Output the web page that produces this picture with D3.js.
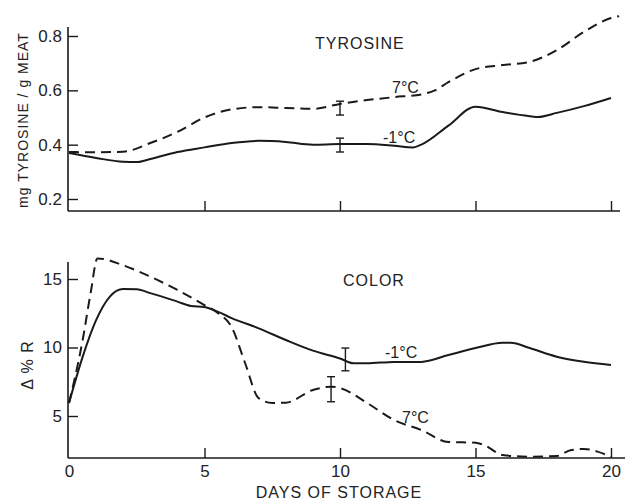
<!DOCTYPE html>
<html><head><meta charset="utf-8">
<script src="https://cdn.jsdelivr.net/npm/d3@7"></script>
<style>body{margin:0;background:#fff}svg{display:block}text{font-family:"Liberation Sans",Arial,sans-serif;fill:#222}</style>
</head><body><svg id="c" width="625" height="500"></svg>
<script>
// ---- data ----
const xTicks = [0,5,10,15,20];
const tyrTicks = [0.2,0.4,0.6,0.8];
const colTicks = [5,10,15];
const tyrDays7 = [0,1,2,3,4,5,6,7,8,9,10,11,12,13,13.5,14,15,16,17,18,19,20,20.3];
const tyr7 = [0.373,0.372,0.374,0.406,0.447,0.50,0.53,0.538,0.535,0.532,0.55,0.564,0.575,0.585,0.60,0.63,0.678,0.693,0.705,0.748,0.815,0.866,0.873];
const tyrDaysM1 = [0,1,2,2.5,3,4,5,6,7,8,9,10,11,12,12.7,13,14,15,16,17,17.3,18,19,20];
const tyrM1 = [0.369,0.351,0.337,0.336,0.347,0.373,0.39,0.406,0.414,0.41,0.40,0.402,0.402,0.396,0.39,0.40,0.47,0.54,0.52,0.505,0.502,0.517,0.542,0.572];
const colDaysM1 = [0,0.5,1,1.5,2,2.5,3,4,4.5,5,5.5,6,7,8,9,10,10.5,11,12,13,14,15,16,16.3,17,18,19,20];
const colM1 = [5.95,9.3,12.0,13.7,14.27,14.25,13.97,13.35,13.03,12.95,12.6,12.15,11.4,10.55,9.77,9.2,8.85,8.85,8.95,8.95,9.45,9.96,10.35,10.35,9.96,9.33,8.96,8.72];
const colDays7 = [0,0.5,0.8,1.05,2,3,4,5,5.5,6,6.5,7,7.5,8,9,9.7,10,11,12,13,14,15,15.3,16,17,18,18.5,19,19.5,20];
const col7 = [5.95,10.5,14.0,16.5,16.0,15.17,14.2,13.1,12.5,11.5,8.85,6.3,5.95,5.97,6.9,7.14,7.04,5.95,4.7,3.98,3.1,3.05,2.9,2.15,2.03,2.08,2.5,2.6,2.4,2.03];
// error bars: [day, low, high]
const tyrErr = [[10,0.509,0.56],[10,0.373,0.424]];
const colErr = [[10.2,8.3,9.96],[9.67,6.04,7.87]];

const svg = d3.select("#c");
const x = d3.scaleLinear().domain([0,20]).range([69,611]);
const yT = d3.scaleLinear().domain([0.2,0.8]).range([199,36]);
const yC = d3.scaleLinear().domain([5,15]).range([416,279]);
const ink = "#1a1a1a";

function panel(y, yTicks, fmt, yTop, yBot, xEnd, showXLabels){
  const g = svg.append("g");
  g.append("line").attr("x1",68).attr("x2",68).attr("y1",yTop).attr("y2",yBot).attr("stroke",ink).attr("stroke-width",1.6);
  g.append("line").attr("x1",68).attr("x2",xEnd).attr("y1",yBot).attr("y2",yBot).attr("stroke",ink).attr("stroke-width",1.6);
  const ya = g.append("g").attr("transform","translate(68,0)")
    .call(d3.axisLeft(y).tickValues(yTicks).tickFormat(fmt).tickSize(-10).tickPadding(6));
  ya.select(".domain").remove();
  ya.selectAll("line").attr("stroke",ink).attr("stroke-width",1.4);
  ya.selectAll("text").style("font-size","17px").style("font-family","Liberation Sans, Arial, sans-serif").attr("fill","#222");
  const xa = g.append("g").attr("transform",`translate(0,${yBot})`)
    .call(d3.axisBottom(x).tickValues(showXLabels?xTicks:xTicks.slice(1)).tickSize(-10).tickPadding(7).tickFormat(showXLabels?d3.format("d"):()=>""));
  xa.select(".domain").remove();
  xa.selectAll("line").attr("stroke",ink).attr("stroke-width",1.4);
  xa.selectAll(".tick").filter(d=>d===0).select("line").remove();
  xa.selectAll("text").style("font-size","17px").style("font-family","Liberation Sans, Arial, sans-serif").attr("fill","#222");
  return g;
}
panel(yT, tyrTicks, d3.format(".1f"), 27, 211, 620, false);
panel(yC, colTicks, d3.format("d"), 262, 458, 625, true);

function curve(days, vals, y, dashed){
  const line = d3.line().x((d,i)=>x(days[i])).y(d=>y(d)).curve(d3.curveMonotoneX);
  svg.append("path").attr("d",line(vals)).attr("fill","none").attr("stroke",ink)
    .attr("stroke-width",2).attr("stroke-dasharray",dashed?"10,6":null);
}
curve(tyrDays7, tyr7, yT, true);
curve(tyrDaysM1, tyrM1, yT, false);
curve(colDays7, col7, yC, true);
curve(colDaysM1, colM1, yC, false);

function errs(list, y){
  list.forEach(e=>{
    const cx = x(e[0]);
    svg.append("line").attr("x1",cx).attr("x2",cx).attr("y1",y(e[1])).attr("y2",y(e[2])).attr("stroke",ink).attr("stroke-width",1.4);
    [e[1],e[2]].forEach(v=>svg.append("line").attr("x1",cx-4).attr("x2",cx+4).attr("y1",y(v)).attr("y2",y(v)).attr("stroke",ink).attr("stroke-width",1.4));
  });
}
errs(tyrErr, yT);
errs(colErr, yC);

function txt(s, tx, ty, size, ls, anchor){
  return svg.append("text").attr("x",tx).attr("y",ty).attr("text-anchor",anchor||"start")
    .style("font-size",size+"px").style("letter-spacing",(ls||0)+"px").text(s);
}
txt("TYROSINE", 315, 49, 16, 1);
txt("COLOR", 343, 286, 16, 1);
txt("7°C", 392, 93, 16, 0);
txt("-1°C", 383, 143, 16, 0);
txt("-1°C", 385, 358, 16, 0);
txt("7°C", 402, 423, 16, 0);
txt("DAYS OF STORAGE", 339, 498, 16, 1, "middle");
svg.append("text").attr("transform","translate(28,120) rotate(-90)").attr("text-anchor","middle")
  .style("font-size","14px").style("letter-spacing","1px").text("mg TYROSINE / g MEAT");
svg.append("text").attr("transform","translate(33,365) rotate(-90)").attr("text-anchor","middle")
  .style("font-size","16px").style("letter-spacing","1px").text("Δ % R");
</script></body></html>
